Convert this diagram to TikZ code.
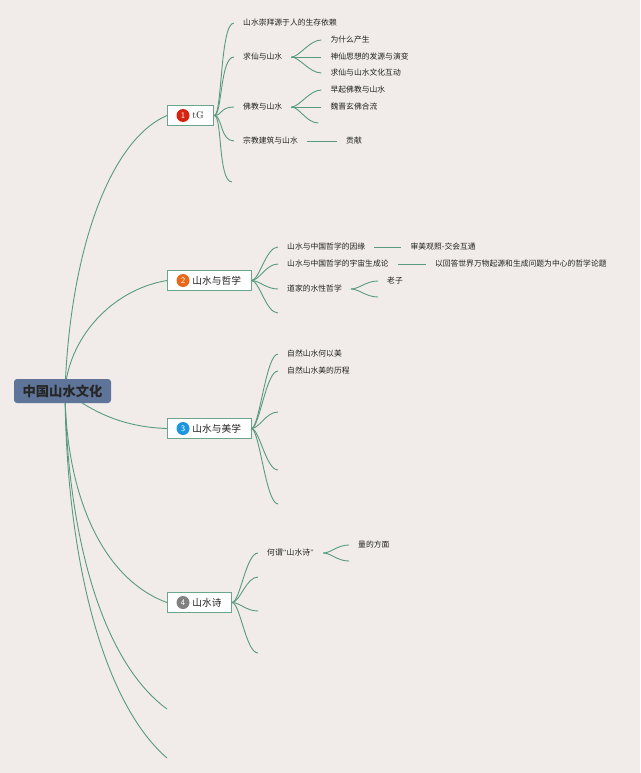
\documentclass[tikz,border=0pt]{standalone}
\usepackage{fontspec}
\newfontfamily\cjk{Noto Sans CJK SC}
\usepackage{xcolor}
\usepackage{tikz}
\usetikzlibrary{positioning}

\definecolor{paper}{RGB}{241,236,233}
\definecolor{link}{RGB}{88,154,126}
\definecolor{frame}{RGB}{106,166,140}
\definecolor{rootblue}{RGB}{94,116,152}
\definecolor{ink}{RGB}{34,34,34}
\definecolor{dotred}{RGB}{214,36,16}
\definecolor{dotorange}{RGB}{232,104,28}
\definecolor{dotblue}{RGB}{28,150,222}
\definecolor{dotgray}{RGB}{128,128,128}

\begin{document}
\begin{tikzpicture}[x=1pt,y=-1pt,
   every node/.style={font=\cjk\fontsize{7.8}{9}\selectfont,text=ink},
   root/.style={rectangle,rounded corners=3pt,fill=rootblue,minimum width=97pt,
                minimum height=24pt,text=black!85,
                font=\cjk\bfseries\fontsize{13.3}{15}\selectfont},
   topic/.style={draw=frame,line width=0.9pt,fill=white,anchor=west,
                 minimum height=20pt,inner xsep=10pt,
                 font=\cjk\fontsize{9.7}{11}\selectfont},
   num/.style={circle,fill=#1,inner sep=0pt,minimum size=13pt,text=white,
               font=\sffamily\fontsize{8.5}{8.5}\selectfont},
   lab/.style={anchor=west,inner xsep=9pt,inner ysep=1pt},
   ln/.style={draw=link,line width=0.9pt}
]
\fill[paper] (0,0) rectangle (640,773);
\useasboundingbox (0,0) rectangle (640,773);

% Hub under the central topic
\coordinate (hub) at (65,391);

% Main topics
\node[topic] (B1) at (167,115.5) {\hspace*{15pt}{\rmfamily tG}};
\node[topic] (B2) at (167,280.5) {\hspace*{15pt}山水与哲学};
\node[topic] (B3) at (167,428.5) {\hspace*{15pt}山水与美学};
\node[topic] (B4) at (167,602.5) {\hspace*{15pt}山水诗};
\node[num=dotred]    (N1) at ([xshift=16pt]B1.west) {1};
\node[num=dotorange] (N2) at ([xshift=16pt]B2.west) {2};
\node[num=dotblue]   (N3) at ([xshift=16pt]B3.west) {3};
\node[num=dotgray]   (N4) at ([xshift=16pt]B4.west) {4};
\coordinate (B5) at (167,709);
\coordinate (B6) at (167,758);
\draw[ln] (hub) .. controls (70,250) and (110,140) .. (B1.west);
\draw[ln] (hub) .. controls (68,340) and (110,290) .. (B2.west);
\draw[ln] (hub) .. controls (90,410) and (120,427) .. (B3.west);
\draw[ln] (hub) .. controls (66,500) and (105,580) .. (B4.west);
\draw[ln] (hub) .. controls (67,530) and (100,660) .. (B5);
\draw[ln] (hub) .. controls (66,550) and (100,700) .. (B6);

% Branch 1
\node[lab] (A1) at (234,23)  {山水崇拜源于人的生存依赖};
\node[lab] (A2) at (234,57)  {求仙与山水};
\node[lab] (A3) at (234,107) {佛教与山水};
\node[lab] (A4) at (234,141) {宗教建筑与山水};
\coordinate (A5) at (232,182);
\draw[ln] (B1.east) .. controls +(8,0) and +(-14,0) .. (A1.west);
\draw[ln] (B1.east) .. controls +(8,0) and +(-14,0) .. (A2.west);
\draw[ln] (B1.east) .. controls +(8,0) and +(-14,0) .. (A3.west);
\draw[ln] (B1.east) .. controls +(8,0) and +(-14,0) .. (A4.west);
\draw[ln] (B1.east) .. controls +(8,0) and +(-14,0) .. (A5);

\node[lab,right=30pt of A2,yshift=17pt]  (A21) {为什么产生};
\node[lab,right=30pt of A2]              (A22) {神仙思想的发源与演变};
\node[lab,right=30pt of A2,yshift=-16pt] (A23) {求仙与山水文化互动};
\draw[ln] (A2.east) .. controls +(8,0) and +(-12,0) .. (A21.west);
\draw[ln] (A2.east) -- (A22.west);
\draw[ln] (A2.east) .. controls +(8,0) and +(-12,0) .. (A23.west);

\node[lab,right=30pt of A3,yshift=17pt] (A31) {早起佛教与山水};
\node[lab,right=30pt of A3]             (A32) {魏晋玄佛合流};
\coordinate[right=27pt of A3.east,yshift=-16pt] (A33);
\draw[ln] (A3.east) .. controls +(8,0) and +(-12,0) .. (A31.west);
\draw[ln] (A3.east) -- (A32.west);
\draw[ln] (A3.east) .. controls +(8,0) and +(-12,0) .. (A33);

\node[lab,right=30pt of A4] (A41) {贡献};
\draw[ln] (A4.east) -- (A41.west);

% Branch 2
\node[lab] (D1) at (278,247) {山水与中国哲学的因缘};
\node[lab] (D2) at (278,264) {山水与中国哲学的宇宙生成论};
\node[lab] (D3) at (278,289) {道家的水性哲学};
\coordinate (D4) at (278,313);
\draw[ln] (B2.east) .. controls +(8,0) and +(-12,0) .. (D1.west);
\draw[ln] (B2.east) .. controls +(8,0) and +(-12,0) .. (D2.west);
\draw[ln] (B2.east) .. controls +(8,0) and +(-12,0) .. (D3.west);
\draw[ln] (B2.east) .. controls +(8,0) and +(-12,0) .. (D4);

\node[lab,right=27pt of D1] (D11) {审美观照-交会互通};
\node[lab,right=28pt of D2] (D21) {以回答世界万物起源和生成问题为中心的哲学论题};
\draw[ln] (D1.east) -- (D11.west);
\draw[ln] (D2.east) -- (D21.west);

\node[lab,right=27pt of D3,yshift=8pt] (D31) {老子};
\coordinate[right=27pt of D3.east,yshift=-8pt] (D32);
\draw[ln] (D3.east) .. controls +(8,0) and +(-12,0) .. (D31.west);
\draw[ln] (D3.east) .. controls +(8,0) and +(-12,0) .. (D32);

% Branch 3
\node[lab] (F1) at (278,354) {自然山水何以美};
\node[lab] (F2) at (278,371) {自然山水美的历程};
\coordinate (F3) at (278,412);
\coordinate (F4) at (278,470);
\coordinate (F5) at (278,504);
\draw[ln] (B3.east) .. controls +(8,0) and +(-12,0) .. (F1.west);
\draw[ln] (B3.east) .. controls +(8,0) and +(-12,0) .. (F2.west);
\draw[ln] (B3.east) .. controls +(8,0) and +(-12,0) .. (F3);
\draw[ln] (B3.east) .. controls +(8,0) and +(-12,0) .. (F4);
\draw[ln] (B3.east) .. controls +(8,0) and +(-12,0) .. (F5);

% Branch 4
\node[lab] (G1) at (258,553) {何谓{\sffamily “}山水诗{\sffamily ”}};
\coordinate (G2) at (258,577);
\coordinate (G3) at (258,611);
\coordinate (G4) at (258,653);
\draw[ln] (B4.east) .. controls +(8,0) and +(-12,0) .. (G1.west);
\draw[ln] (B4.east) .. controls +(8,0) and +(-12,0) .. (G2);
\draw[ln] (B4.east) .. controls +(8,0) and +(-12,0) .. (G3);
\draw[ln] (B4.east) .. controls +(8,0) and +(-12,0) .. (G4);

\node[lab] (G11) at (349,545) {量的方面};
\coordinate (G12) at (349,561);
\draw[ln] (G1.east) .. controls +(8,0) and +(-12,0) .. (G11.west);
\draw[ln] (G1.east) .. controls +(8,0) and +(-12,0) .. (G12);

% Central topic
\node[root] (R) at (62.5,391) {中国山水文化};

\end{tikzpicture}
\end{document}
